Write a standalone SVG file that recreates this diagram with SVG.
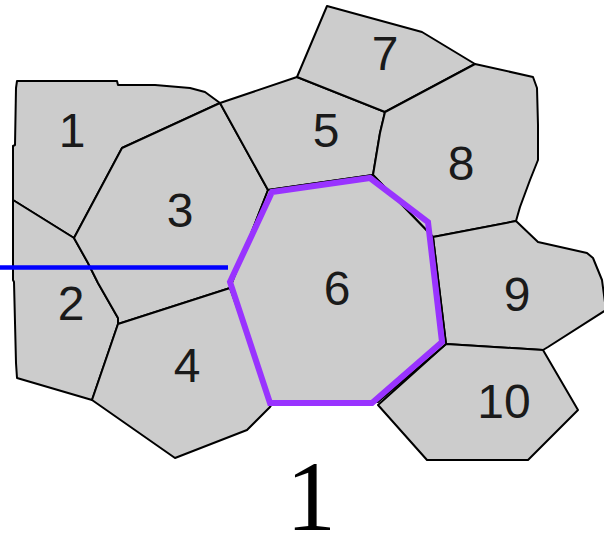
<svg xmlns="http://www.w3.org/2000/svg" width="604" height="538" viewBox="0 0 604 538">
<style>
.cell{fill:#cccccc;stroke:#000;stroke-width:2;stroke-linejoin:round}
.lbl{font-family:"Liberation Sans",Arial,sans-serif;font-size:48px;fill:#1a1a1a;text-anchor:middle}
</style>
<rect width="604" height="538" fill="#fff"/>
<g id="cell1"><polygon class="cell" points="17,81 117,81 118,85 155,85 190,88 205,92 220,103 122,148 74,238 13,200 13,146 15,145 16,88"/><text class="lbl" x="72" y="147">1</text></g>
<g id="cell2"><polygon class="cell" points="13,200 74,238 88,263 98,283 118,318 118,324 92,400 17,378 16,363 14,282 13,280"/><text class="lbl" x="71" y="320">2</text></g>
<g id="cell3"><polygon class="cell" points="122,148 220,103 268,190 230,288 118,324 118,318 98,283 88,263 74,238"/><text class="lbl" x="180" y="227">3</text></g>
<g id="cell4"><polygon class="cell" points="118,324 230,288 276,398 270,407 247,430 175,458 92,400"/><text class="lbl" x="187" y="382">4</text></g>
<g id="cell5"><polygon class="cell" points="220,103 297,77 385,112 380,133 373,175 268,190"/><text class="lbl" x="326" y="147">5</text></g>
<g id="cell7"><polygon class="cell" points="297,77 327,6 422,32 475,64 385,112"/><text class="lbl" x="385" y="70">7</text></g>
<g id="cell8"><polygon class="cell" points="385,112 475,64 533,77 537,88 538,125 538,160 530,180 520,207 516,221 433,237 373,175 380,133"/><text class="lbl" x="461" y="180">8</text></g>
<g id="cell9"><polygon class="cell" points="433,237 516,221 538,242 587,253 593,258 602,280 606,310 548,347 543,350 446,344"/><text class="lbl" x="517" y="311">9</text></g>
<g id="cell10"><polygon class="cell" points="446,344 543,350 578,410 528,460 427,460 378,405"/><text class="lbl" x="504" y="418">10</text></g>
<g id="cell6"><polygon class="cell" points="268,190 373,175 433,237 446,344 378,402 272,405 230,288"/><text class="lbl" x="337" y="305">6</text></g>
<g id="connectors">
<polygon points="272,192 370,178 428,222 442,342 372,403 270,403 230,282" fill="none" stroke="#9933ff" stroke-width="6" stroke-linejoin="miter"/>
<line x1="0" y1="267.5" x2="228" y2="267.5" stroke="#0000ff" stroke-width="4.5"/>
</g>
<text x="311" y="530" font-family="'Liberation Serif','Times New Roman',serif" font-size="100" text-anchor="middle" fill="#000">1</text>
</svg>
